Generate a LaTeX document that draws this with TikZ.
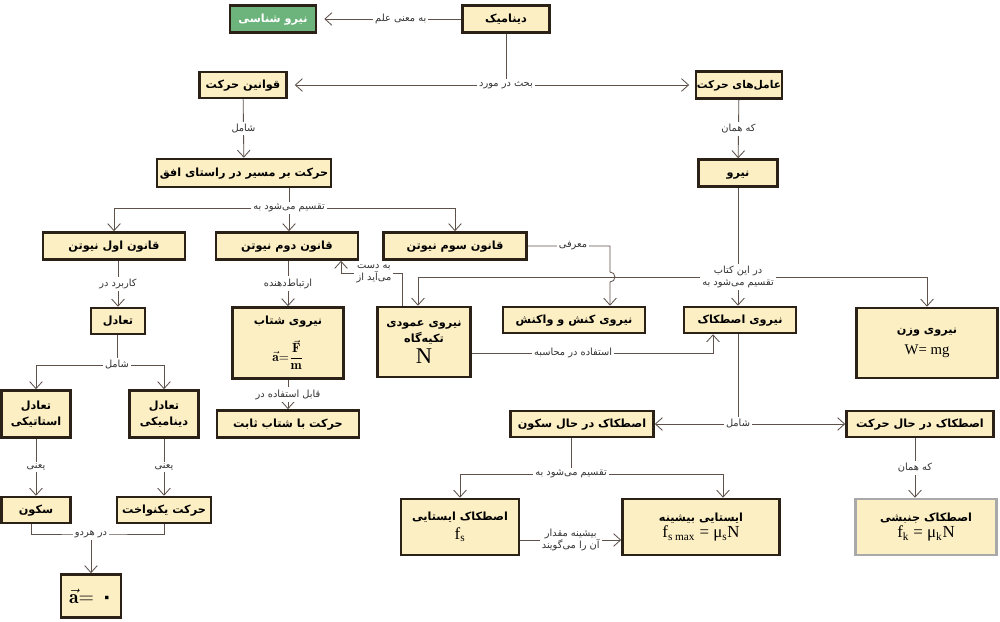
\documentclass[tikz,border=0pt]{standalone}
\usepackage{amsmath}
\usepackage{fontspec}
\usepackage{tikz}
\usetikzlibrary{shapes, arrows.meta, positioning, backgrounds}
\TeXXeTstate=1
\newfontfamily\arabicfont[Script=Arabic]{DejaVu Sans}
\newfontfamily\latinfont{Liberation Serif}
\newcommand{\fa}[1]{\beginR #1\endR}
\definecolor{boxfill}{HTML}{FDEFC4}
\definecolor{boxline}{HTML}{2B2116}
\definecolor{linec}{HTML}{5E524A}
\definecolor{greenfill}{HTML}{6CB47B}
\definecolor{greyline}{HTML}{A9A9A9}
\tikzstyle{block} = [rectangle, draw=boxline, line width=1.8pt, fill=boxfill, text centered, inner sep=0pt, font=\arabicfont\bfseries\fontsize{8}{11}\selectfont]
\tikzstyle{single} = [block, text height=6pt, text depth=1pt]
\tikzstyle{lab} = [fill=white, inner sep=1.5pt, text=black!80, align=center, font=\arabicfont\fontsize{7}{8.5}\selectfont]
\tikzstyle{arrow} = [-{Straight Barb[length=5pt,width=9pt]}, draw=linec, line width=0.6pt]
\tikzstyle{conn} = [draw=linec, line width=0.6pt]
\tikzset{dims/.style 2 args={minimum width=#1*0.025cm, minimum height=#2*0.025cm}}

\begin{document}
\begin{tikzpicture}[x=0.025cm, y=-0.025cm]
    \useasboundingbox [fill=white] (0, 0) rectangle (1000, 622);

    % boxes
    \node (niroo) [single, dims={86}{27}, fill=greenfill, text=white] at (273, 19) {\fa{نیرو شناسی}};
    \node (dinamik) [single, dims={87}{27}] at (506, 19) {\fa{دینامیک}};
    \node (ghavanin) [single, dims={87}{26}] at (243, 85) {\fa{قوانین حرکت}};
    \node (avamel) [single, dims={86}{27}, font=\arabicfont\bfseries\fontsize{7.6}{9}\selectfont] at (739, 85) {\fa{عامل‌های حرکت}};
    \node (ofogh) [single, dims={174}{28}] at (244, 173) {\fa{حرکت بر مسیر در راستای افق}};
    \node (niru) [single, dims={79}{27}] at (738, 173) {\fa{نیرو}};
    \node (aval) [single, dims={142}{27}] at (114, 246) {\fa{قانون اول نیوتن}};
    \node (dovom) [single, dims={142}{27}] at (287, 246) {\fa{قانون دوم نیوتن}};
    \node (sevom) [single, dims={143}{27}] at (455, 246) {\fa{قانون سوم نیوتن}};
    \node (taadol) [single, dims={54}{26}] at (118, 321) {\fa{تعادل}};
    \node (shetab) [block, dims={111}{71}, align=center] at (288, 343) {\fa{نیروی شتاب}\\[8pt] {\fontsize{9.5}{11}\selectfont $\vec{\mathbf{a}}\mathbf{=}\dfrac{\vec{\mathbf{F}}}{\mathbf{m}}$}};
    \node (amudi) [block, dims={93}{70}, align=center] at (424, 342) {\fa{نیروی عمودی}\\ \fa{تکیه‌گاه}\\[2pt] {\latinfont\mdseries\fontsize{16}{16}\selectfont N}};
    \node (konesh) [single, dims={142}{26}] at (574, 320) {\fa{نیروی کنش و واکنش}};
    \node (estekak) [single, dims={112}{26}] at (740, 320) {\fa{نیروی اصطکاک}};
    \node (vazn) [block, dims={141}{70}, align=center] at (927, 343) {\fa{نیروی وزن}\\[4pt] {\latinfont\mdseries\fontsize{10.5}{12}\selectfont W= mg}};
    \node (estatiki) [block, dims={69}{47}, align=center] at (36, 414) {\fa{تعادل}\\ \fa{استاتیکی}};
    \node (dinamiki) [block, dims={69}{47}, align=center] at (164, 414) {\fa{تعادل}\\ \fa{دینامیکی}};
    \node (sabet) [single, dims={142}{27}] at (288, 424) {\fa{حرکت با شتاب ثابت}};
    \node (sokun) [single, dims={69}{26}] at (36, 510) {\fa{سکون}};
    \node (yeknavakht) [single, dims={94}{26}] at (164, 510) {\fa{حرکت یکنواخت}};
    \node (azero) [block, dims={60}{43}] at (91, 596) {{\fontsize{14}{14}\selectfont $\vec{\mathbf{a}}\mathbf{=}$ ۰}};
    \node (fsokun) [single, dims={143}{26}] at (582, 424) {\fa{اصطکاک در حال سکون}};
    \node (fharekat) [single, dims={147}{26}] at (920, 424) {\fa{اصطکاک در حال حرکت}};
    \node (istaei) [block, dims={118}{56}, align=center] at (460, 527) {\fa{اصطکاک ایستایی}\\[2pt] {\latinfont\mdseries\fontsize{12}{13}\selectfont f\textsubscript{s}}};
    \node (bishine) [block, dims={157}{56}, align=center] at (701, 527) {\fa{ایستایی بیشینه}\\[1pt] {\latinfont\mdseries\fontsize{12}{13}\selectfont f\textsubscript{s max} = μ\textsubscript{s}N}};
    \node (jonbeshi) [block, dims={141}{56}, align=center, draw=greyline] at (926, 527) {\fa{اصطکاک جنبشی}\\[1pt] {\latinfont\mdseries\fontsize{12}{13}\selectfont f\textsubscript{k} = μ\textsubscript{k}N}};

    % top part
    \draw [arrow, shorten >=5pt] (dinamik) -- node (l1) [lab, pos=0.42] {\fa{به معنی علم}} (niroo);
    \coordinate (bahs) at (dinamik.south |- ghavanin.east);
    \draw [conn] (dinamik) -- (bahs);
    \draw [arrow, shorten >=5pt] (bahs) -- (ghavanin);
    \draw [arrow, shorten >=4pt] (bahs) -- (avamel);
    \node (l2) [lab] at (bahs) {\fa{بحث در مورد}};
    \draw [arrow] (ghavanin) -- node (l3) [lab] {\fa{شامل}} (ofogh);
    \draw [arrow] (avamel) -- node (l4) [lab] {\fa{که همان}} (niru);

    % newton laws
    \coordinate (taghsim1) at (289, 208);
    \draw [conn] (ofogh.south -| taghsim1) -- (taghsim1);
    \draw [arrow] (taghsim1) -| (aval);
    \draw [arrow] (taghsim1) -- (dovom.north -| taghsim1);
    \draw [arrow] (taghsim1) -| (sevom);
    \node (l5) [lab] at (taghsim1) {\fa{تقسیم می‌شود به}};
    \draw [arrow] (taadol.north |- aval.south) -- node (l6) [lab] {\fa{کاربرد در}} (taadol.north);
    \draw [arrow] (shetab.north |- dovom.south) -- node (l7) [lab] {\fa{ارتباط‌دهنده}} (shetab.north);
    \draw [arrow] ([xshift=-0.55cm]amudi.north) -- ++(0, -32) -| node (l8) [lab, pos=0.23] {\fa{به دست}\\ \fa{می‌آید از}} ([xshift=1.35cm]dovom.south);
    \coordinate (moarefi) at (610, 246);
    \draw [arrow] (sevom) -- node (l9) [lab, pos=0.55] {\fa{معرفی}} (moarefi) -- ++(0, 26) arc [start angle=90, end angle=-90, radius=0.125cm] -- ([xshift=0.9cm]konesh.north);
    \draw [arrow] (shetab) -- node (l10) [lab] {\fa{قابل استفاده در}} (sabet);

    % forces
    \coordinate (ketab) at (738, 277);
    \draw [conn] (niru) -- (ketab);
    \draw [arrow] (ketab) -| ([xshift=-0.15cm]amudi.north);
    \draw [arrow] (ketab) -- (estekak.north -| ketab);
    \draw [arrow] (ketab) -| (vazn);
    \node (l11) [lab] at (ketab) {\fa{در این کتاب}\\ \fa{تقسیم می‌شود به}};
    \draw [arrow] ([yshift=-0.275cm]amudi.east) -| node (l12) [lab, pos=0.21] {\fa{استفاده در محاسبه}} ([xshift=-0.675cm]estekak.south);

    % friction
    \coordinate (shamel2) at (738, 424);
    \draw [conn] (estekak.south -| shamel2) -- (shamel2);
    \draw [arrow] (shamel2) -- (fsokun);
    \draw [arrow] (shamel2) -- (fharekat);
    \node (l13) [lab] at (shamel2) {\fa{شامل}};
    \coordinate (taghsim2) at (571, 474);
    \draw [conn] (fsokun.south -| taghsim2) -- (taghsim2);
    \draw [arrow] (taghsim2) -| (istaei);
    \draw [arrow] (taghsim2) -| ([xshift=0.55cm]bishine.north);
    \node (l14) [lab] at (taghsim2) {\fa{تقسیم می‌شود به}};
    \draw [arrow] ([yshift=-0.325cm]istaei.east) -- node (l15) [lab] {\fa{بیشینه مقدار}\\ \fa{آن را می‌گویند}} ([yshift=-0.325cm]bishine.west);
    \draw [arrow] ([xshift=-0.125cm]fharekat.south) -- node (l16) [lab] {\fa{که همان}} ([xshift=-0.125cm]fharekat.south |- jonbeshi.north);

    % equilibrium
    \coordinate (shamel3) at (117, 365);
    \draw [conn] (taadol.south -| shamel3) -- (shamel3);
    \draw [arrow] (shamel3) -| (estatiki);
    \draw [arrow] (shamel3) -| (dinamiki);
    \node (l17) [lab] at (shamel3) {\fa{شامل}};
    \draw [arrow] (estatiki) -- node (l18) [lab] {\fa{یعنی}} (sokun);
    \draw [arrow] (dinamiki) -- node (l19) [lab] {\fa{یعنی}} (yeknavakht);
    \coordinate (hardo) at (91, 534);
    \draw [conn] ([xshift=-0.125cm]sokun.south) |- (hardo) -| (yeknavakht.south);
    \draw [arrow] (hardo) -- (azero);
    \node (l20) [lab] at (hardo) {\fa{در هردو}};

\end{tikzpicture}
\end{document}
